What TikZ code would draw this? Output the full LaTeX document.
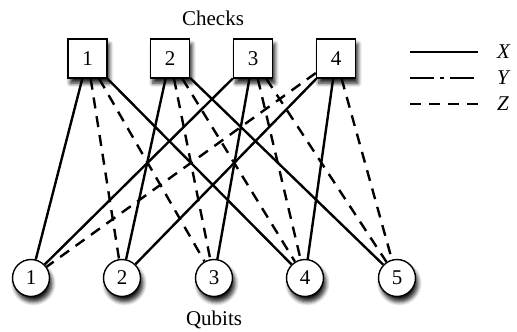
\documentclass[tikz,border=0pt]{standalone}
\usepackage{fontspec}
\setmainfont{Liberation Serif}
\usetikzlibrary{shadows.blur}

\begin{document}
\begin{tikzpicture}[x=0.5pt, y=-0.5pt,
    font=\fontsize{10.5}{12}\selectfont,
    softshadow/.style={blur shadow={shadow xshift=1.2pt, shadow yshift=-2.6pt, shadow blur steps=6, shadow blur radius=2pt, shadow opacity=90}},
    checkbox/.style={draw, fill=white, line width=0.7pt, minimum size=19.5pt, inner sep=0pt, softshadow},
    qubitnode/.style={circle, draw, fill=white, line width=0.7pt, minimum size=18.5pt, inner sep=0pt, softshadow},
    xedge/.style={line width=1.2pt},
    yedge/.style={line width=1.2pt, dash pattern=on 12pt off 3pt on 2pt off 3pt},
    zedge/.style={line width=1.2pt, dash pattern=on 5.5pt off 4pt}]
    \useasboundingbox (0,0) rectangle (517,331);

    % Checks row
    \node[checkbox] (c1) at (87.5,58.5) {1};
    \node[checkbox] (c2) at (170,58.5) {2};
    \node[checkbox] (c3) at (253,58.5) {3};
    \node[checkbox] (c4) at (336,58.5) {4};
    \node (checks) at (213,18) {Checks};

    % Qubits row
    \node[qubitnode] (q1) at (31,278) {1};
    \node[qubitnode] (q2) at (122,278) {2};
    \node[qubitnode] (q3) at (214,278) {3};
    \node[qubitnode] (q4) at (305,278) {4};
    \node[qubitnode] (q5) at (397,278) {5};
    \node (qubits) at (214,320) {Qubits};

    % Edges of check 1
    \draw[xedge] (c1) -- (q1);
    \draw[zedge] (c1) -- (q2);
    \draw[zedge] (c1) -- (q3);
    \draw[xedge] (c1) -- (q4);
    % Edges of check 2
    \draw[xedge] (c2) -- (q2);
    \draw[zedge] (c2) -- (q3);
    \draw[zedge] (c2) -- (q4);
    \draw[xedge] (c2) -- (q5);
    % Edges of check 3
    \draw[xedge] (c3) -- (q1);
    \draw[xedge] (c3) -- (q3);
    \draw[zedge] (c3) -- (q4);
    \draw[zedge] (c3) -- (q5);
    % Edges of check 4
    \draw[zedge] (c4) -- (q1);
    \draw[xedge] (c4) -- (q2);
    \draw[xedge] (c4) -- (q4);
    \draw[zedge] (c4) -- (q5);

    % Legend
    \coordinate (xa) at (410,52);
    \coordinate (xb) at (478,52);
    \coordinate (ya) at (410,78);
    \coordinate (yb) at (474,78);
    \coordinate (za) at (410,104);
    \coordinate (zb) at (478,104);
    \draw[xedge] (xa) -- (xb);
    \draw[yedge] (ya) -- (yb);
    \draw[zedge] (za) -- (zb);
    \node[anchor=west] (xlab) at (490,52) {\textit{X}};
    \node[anchor=west] (ylab) at (490,78) {\textit{Y}};
    \node[anchor=west] (zlab) at (490,104) {\textit{Z}};
\end{tikzpicture}
\end{document}
